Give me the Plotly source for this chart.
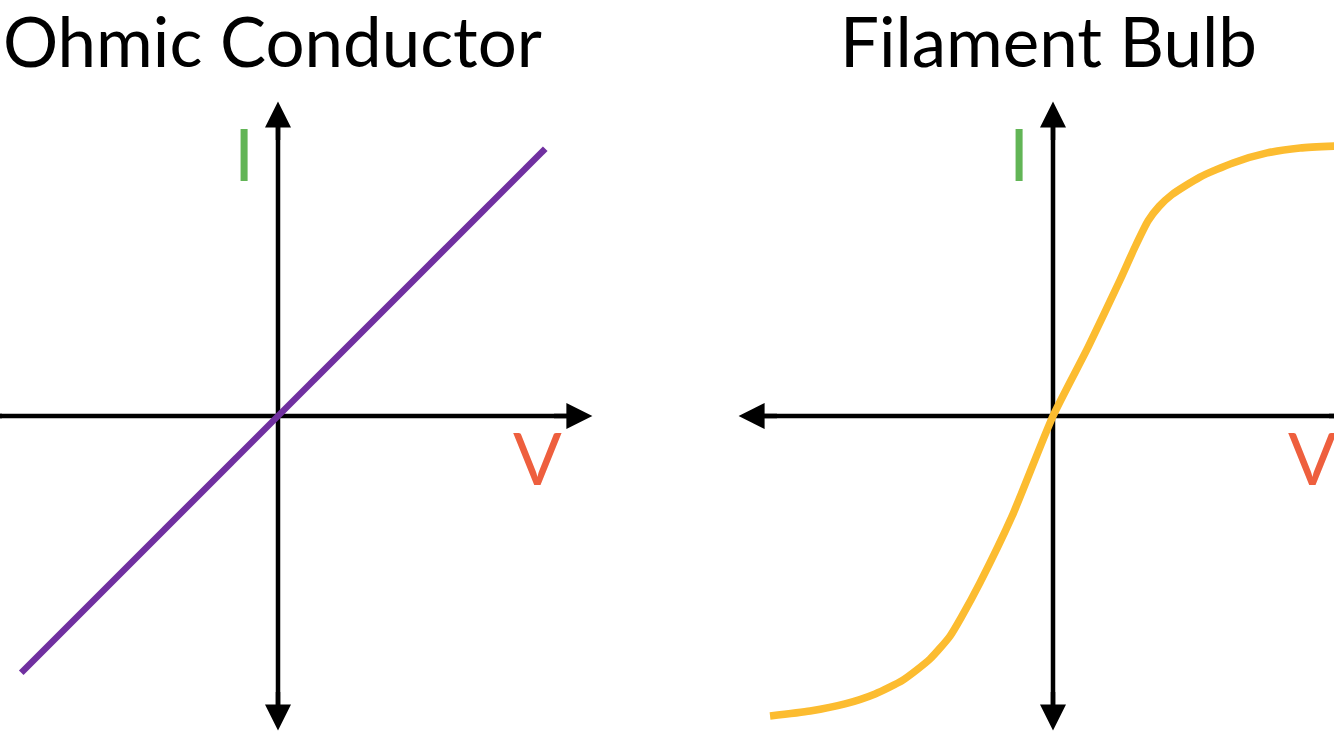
import plotly.graph_objects as go

# ---------------- data ----------------
ohmic_V = [-9.8, 10.2]
ohmic_I = [-9.8, 10.2]

bulb_V = [-10.80, -9.27, -7.94, -6.79, -5.73, -4.69, -3.93, -3.47, -2.79, -1.56, 0.0,
          1.34, 2.56, 3.13, 3.63, 4.05, 4.54, 5.61, 6.87, 8.17, 9.43, 10.95]
bulb_I = [-11.45, -11.26, -10.99, -10.61, -10.08, -9.27, -8.40, -7.63, -6.37, -3.82, 0.0,
          2.63, 5.19, 6.45, 7.45, 8.00, 8.45, 9.12, 9.66, 10.04, 10.23, 10.31]

titles = ["Ohmic Conductor", "Filament Bulb"]
y_label = "I"
x_label = "V"
axis_extent = 12.0  # length of the drawn axes (units)

# ---------------- layout constants ----------------
W, H = 1334, 749
U = 26.2  # pixels per unit
PURPLE = "#7030A0"
GOLD = "#FCBC30"
GREEN = "#62B556"
RED = "#EE5F3E"
FONT = "Lato"

panels = [
    dict(px=(0, 660), origin=(278, 416), title_x=272),
    dict(px=(680, 1334), origin=(1053, 416), title_x=1048),
]

fig = go.Figure()

layout = dict(width=W, height=H, margin=dict(l=0, r=0, t=0, b=0),
              paper_bgcolor="white", plot_bgcolor="white", showlegend=False)

annotations = []
AXW = 4.5
head_size = 26.0 / (5 * AXW)
line_end = axis_extent - 15.0 / U
tail_len = 40.0 / U

for i, p in enumerate(panels):
    sfx = "" if i == 0 else str(i + 1)
    x0, x1 = p["px"]
    ox, oy = p["origin"]
    layout["xaxis" + sfx] = dict(domain=[x0 / W, x1 / W],
                                 range=[(x0 - ox) / U, (x1 - ox) / U],
                                 visible=False, fixedrange=True, anchor="y" + sfx)
    layout["yaxis" + sfx] = dict(domain=[0, 1],
                                 range=[(oy - H) / U, oy / U],
                                 visible=False, fixedrange=True, anchor="x" + sfx)
    xr, yr = "x" + sfx, "y" + sfx

    # axis lines (drawn first, under curves)
    fig.add_trace(go.Scatter(x=[-line_end, line_end], y=[0, 0], mode="lines",
                             line=dict(color="black", width=AXW),
                             xaxis=xr, yaxis=yr, hoverinfo="skip"))
    fig.add_trace(go.Scatter(x=[0, 0], y=[-line_end, line_end], mode="lines",
                             line=dict(color="black", width=AXW),
                             xaxis=xr, yaxis=yr, hoverinfo="skip"))

    # arrow heads
    for dx, dy in [(1, 0), (-1, 0), (0, 1), (0, -1)]:
        px_ = dx * axis_extent
        py_ = dy * axis_extent
        annotations.append(dict(
            x=px_, y=py_, ax=px_ - dx * tail_len, ay=py_ - dy * tail_len,
            xref=xr, yref=yr, axref=xr, ayref=yr, text="",
            showarrow=True, arrowhead=2, arrowwidth=AXW, arrowsize=head_size,
            arrowcolor="black", standoff=0))

    # labels
    annotations.append(dict(x=-1.30, y=10.05, xref=xr, yref=yr, text=y_label,
                            showarrow=False, font=dict(family=FONT, size=72, color=GREEN),
                            xanchor="center", yanchor="middle"))
    annotations.append(dict(x=9.9, y=-1.55, xref=xr, yref=yr, text=x_label,
                            showarrow=False, font=dict(family=FONT, size=72, color=RED),
                            xanchor="center", yanchor="middle"))
    # title
    annotations.append(dict(x=p["title_x"] / W, y=1 - 41 / H, xref="paper", yref="paper",
                            text=titles[i], showarrow=False,
                            font=dict(family=FONT, size=69, color="black"),
                            xanchor="center", yanchor="middle"))

# curves
fig.add_trace(go.Scatter(x=ohmic_V, y=ohmic_I, mode="lines",
                         line=dict(color=PURPLE, width=6.5),
                         xaxis="x", yaxis="y", hoverinfo="skip"))
fig.add_trace(go.Scatter(x=bulb_V, y=bulb_I, mode="lines",
                         line=dict(color=GOLD, width=7.5, shape="spline", smoothing=0.6),
                         xaxis="x2", yaxis="y2", hoverinfo="skip", cliponaxis=False))

layout["annotations"] = annotations
fig.update_layout(**layout)
fig.write_html("out.html", config={"displayModeBar": False, "staticPlot": True},
               post_script="document.body.style.margin='0px';document.body.style.padding='0px';")
